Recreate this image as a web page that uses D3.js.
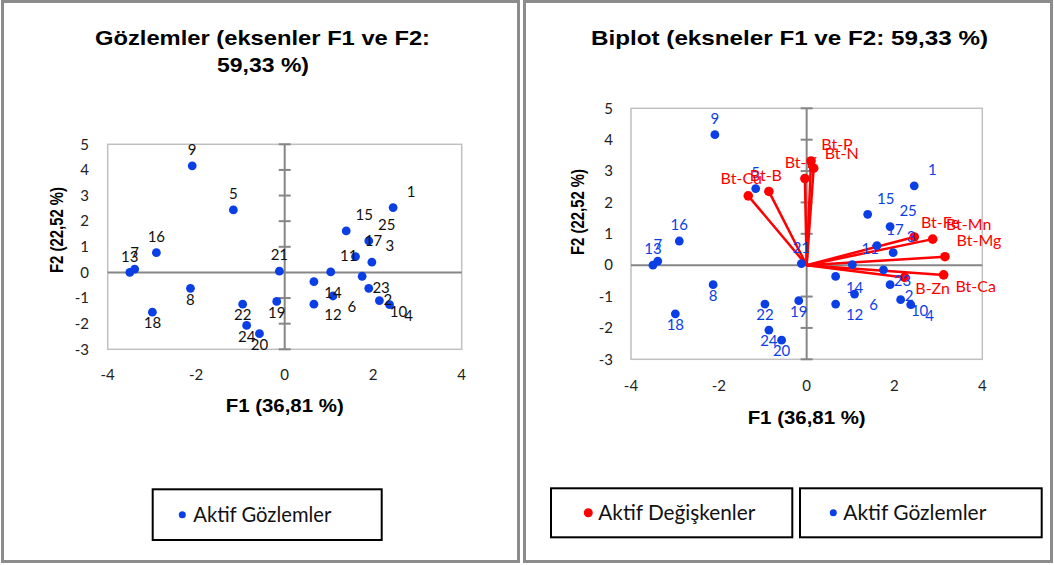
<!DOCTYPE html>
<html>
<head>
<meta charset="utf-8">
<script src="https://cdn.jsdelivr.net/npm/d3@7"></script>
<style>
  body { margin: 0; background: #fff; }
  svg { display: block; }
</style>
</head>
<body>
<script>
// observations (F1, F2 scores)
var obsIds = ["1","2","3","4","5","6","7","8","9","10","11","12","13","14","15","16","17","18","19","20","21","22","23","24","25"];
var obsF1 = [2.45, 1.90, 1.97, 2.37, -1.16, 1.09, -3.39, -2.13, -2.09, 2.14, 1.04, 0.66, -3.50, 0.66, 1.39, -2.90, 1.60, -2.99, -0.18, -0.57, -0.12, -0.95, 1.75, -0.86, 1.90];
var obsF2 = [2.53, -0.62, 0.40, -1.26, 2.44, -0.92, 0.13, -0.62, 4.16, -1.10, 0.02, -1.24, 0.00, -0.36, 1.62, 0.77, 0.62, -1.55, -1.13, -2.39, 0.05, -1.24, -0.15, -2.07, 1.23];

// variables (biplot vectors)
var varNames = ["Bt-Cu", "Bt-B", "Bt-K", "Bt-P", "Bt-N", "Bt-Fe", "Bt-Mn", "Bt-Mg", "Bt-Ca", "B-Zn"];
var varF1 = [-1.33, -0.86, -0.04, 0.10, 0.16, 2.45, 2.87, 3.15, 3.12, 2.23];
var varF2 = [2.21, 2.35, 2.76, 3.32, 3.09, 0.90, 0.83, 0.27, -0.31, -0.39];

var xTicks = [-4, -2, 0, 2, 4];
var yTicks = [-3, -2, -1, 0, 1, 2, 3, 4, 5];

// label placement (layout only)
var obsLabelPos = ["ur","lr","ur","lr","a","lr","a","b","a","lr","ur","lr","a","lr","ur","a","ur","b","b","b","a","b","lr","b","ur"];
var labelOffset = { a: [0, -16], b: [0, 11], ur: [18, -16], lr: [19, 11] };
var varLabelOffset = [[-7,-17],[-3,-16],[-4,-16],[26,-17],[28,-15],[26,-15],[36,-15],[34,-16],[32,11],[28,11]];

var BLUE = "#0b3fe6", RED = "#ff0000";
var tickFont = "Lato, 'Liberation Sans', sans-serif";
var boldFont = "'Liberation Sans', Arial, sans-serif";

var svg = d3.select("body").append("svg").attr("width", 1054).attr("height", 565);

// panel frames
svg.append("rect").attr("x", 2.5).attr("y", 1.5).attr("width", 516).attr("height", 560)
  .attr("fill", "#fff").attr("stroke", "#8c8c8c").attr("stroke-width", 3);
svg.append("rect").attr("x", 524.5).attr("y", 1.5).attr("width", 527).attr("height", 560)
  .attr("fill", "#fff").attr("stroke", "#8c8c8c").attr("stroke-width", 3);

var obs = obsIds.map(function (id, i) { return { id: id, x: obsF1[i], y: obsF2[i], pos: obsLabelPos[i] }; });
var vars = varNames.map(function (n, i) { return { name: n, x: varF1[i], y: varF2[i], off: varLabelOffset[i] }; });

function drawPlot(cfg) {
  var g = svg.append("g");
  var x = d3.scaleLinear().domain([-4, 4]).range([cfg.x0, cfg.x1]);
  var y = d3.scaleLinear().domain([-3, 5]).range([cfg.y1, cfg.y0]);

  // plot border
  g.append("rect").attr("x", cfg.x0).attr("y", cfg.y0)
    .attr("width", cfg.x1 - cfg.x0).attr("height", cfg.y1 - cfg.y0)
    .attr("fill", "none").attr("stroke", "#c0c0c0").attr("stroke-width", 1.5);

  // zero axes
  g.append("line").attr("x1", cfg.x0).attr("x2", cfg.x1).attr("y1", y(0)).attr("y2", y(0))
    .attr("stroke", "#868686").attr("stroke-width", 2);
  g.append("line").attr("x1", x(0)).attr("x2", x(0)).attr("y1", cfg.y0).attr("y2", cfg.y1)
    .attr("stroke", "#868686").attr("stroke-width", 2);
  // tick marks on vertical zero axis
  g.selectAll(".vt").data(yTicks.filter(function (d) { return d !== 0; })).enter().append("line")
    .attr("x1", x(0) - 6).attr("x2", x(0) + 6)
    .attr("y1", function (d) { return y(d); }).attr("y2", function (d) { return y(d); })
    .attr("stroke", "#868686").attr("stroke-width", 2);

  // tick labels
  g.selectAll(".yl").data(yTicks).enter().append("text")
    .attr("x", cfg.yLabelX).attr("y", function (d) { return y(d); }).attr("dy", "0.35em")
    .attr("text-anchor", "end").attr("font-family", tickFont).attr("font-size", 15).attr("fill", "#222")
    .text(function (d) { return d; });
  g.selectAll(".xl").data(xTicks).enter().append("text")
    .attr("x", function (d) { return x(d); }).attr("y", cfg.xLabelY).attr("dy", "0.35em")
    .attr("text-anchor", "middle").attr("font-family", tickFont).attr("font-size", 15).attr("fill", "#222")
    .text(function (d) { return d; });

  // axis titles
  g.append("text").attr("x", x(0)).attr("y", cfg.f1Y).attr("dy", "0.35em")
    .attr("text-anchor", "middle").attr("font-family", boldFont).attr("font-weight", "bold")
    .attr("font-size", 18).attr("textLength", 118).attr("lengthAdjust", "spacingAndGlyphs")
    .text("F1 (36,81 %)");
  g.append("text").attr("transform", "translate(" + cfg.f2X + "," + cfg.f2Y + ") rotate(-90)")
    .attr("dy", "0.35em").attr("text-anchor", "middle").attr("font-family", boldFont).attr("font-weight", "bold")
    .attr("font-size", 18).attr("textLength", 86).attr("lengthAdjust", "spacingAndGlyphs")
    .text("F2 (22,52 %)");

  // variables
  if (cfg.biplot) {
    g.selectAll(".vec").data(vars).enter().append("line")
      .attr("x1", x(0)).attr("y1", y(0))
      .attr("x2", function (d) { return x(d.x); }).attr("y2", function (d) { return y(d.y); })
      .attr("stroke", RED).attr("stroke-width", 2.5);
    g.selectAll(".vdot").data(vars).enter().append("circle")
      .attr("cx", function (d) { return x(d.x); }).attr("cy", function (d) { return y(d.y); })
      .attr("r", 4.8).attr("fill", RED);
  }

  // observations
  g.selectAll(".odot").data(obs).enter().append("circle")
    .attr("cx", function (d) { return x(d.x); }).attr("cy", function (d) { return y(d.y); })
    .attr("r", 4.4).attr("fill", BLUE);
  g.selectAll(".olab").data(obs).enter().append("text")
    .attr("x", function (d) { return x(d.x) + labelOffset[d.pos][0]; })
    .attr("y", function (d) { return y(d.y) + labelOffset[d.pos][1]; })
    .attr("dy", "0.35em").attr("text-anchor", "middle")
    .attr("font-family", tickFont).attr("font-size", 15)
    .attr("fill", cfg.biplot ? BLUE : "#111")
    .text(function (d) { return d.id; });

  if (cfg.biplot) {
    g.selectAll(".vlab").data(vars).enter().append("text")
      .attr("x", function (d) { return x(d.x) + d.off[0]; })
      .attr("y", function (d) { return y(d.y) + d.off[1]; })
      .attr("dy", "0.35em").attr("text-anchor", "middle")
      .attr("font-family", tickFont).attr("font-size", 16).attr("fill", RED)
      .text(function (d) { return d.name; });
  }
}

drawPlot({ x0: 107.7, x1: 461.7, y0: 144.3, y1: 349.3, yLabelX: 89, xLabelY: 375,
  f1Y: 406, f2X: 57, f2Y: 230, biplot: false });
drawPlot({ x0: 631, x1: 982.3, y0: 108.3, y1: 359.3, yLabelX: 613, xLabelY: 386,
  f1Y: 418, f2X: 577.5, f2Y: 212, biplot: true });

// titles
function title(txt, cx, cy, len) {
  svg.append("text").attr("x", cx).attr("y", cy).attr("dy", "0.35em").attr("text-anchor", "middle")
    .attr("font-family", boldFont).attr("font-weight", "bold").attr("font-size", 21)
    .attr("textLength", len).attr("lengthAdjust", "spacingAndGlyphs").text(txt);
}
title("Gözlemler (eksenler F1 ve F2:", 262.5, 38, 335);
title("59,33 %)", 263, 65, 92);
title("Biplot (eksneler F1 ve F2: 59,33 %)", 789.5, 38, 397);

// legends
function legend(bx, by, bw, bh, dotX, dotR, color, txt, tx, tlen) {
  svg.append("rect").attr("x", bx).attr("y", by).attr("width", bw).attr("height", bh)
    .attr("fill", "#fff").attr("stroke", "#000").attr("stroke-width", 2);
  svg.append("circle").attr("cx", dotX).attr("cy", by + bh / 2).attr("r", dotR).attr("fill", color);
  svg.append("text").attr("x", tx).attr("y", by + bh / 2).attr("dy", "0.35em")
    .attr("font-family", tickFont).attr("font-size", 21).attr("fill", "#111")
    .attr("textLength", tlen).attr("lengthAdjust", "spacingAndGlyphs").text(txt);
}
legend(152.7, 489.3, 229, 50.7, 182.3, 3.5, BLUE, "Aktif Gözlemler", 193.3, 138);
legend(551, 488.3, 241.3, 49, 588.3, 4.5, RED, "Aktif Değişkenler", 598.3, 157);
legend(800, 488.3, 241.7, 49, 833.3, 3.5, BLUE, "Aktif Gözlemler", 843.3, 143);
</script>
</body>
</html>
